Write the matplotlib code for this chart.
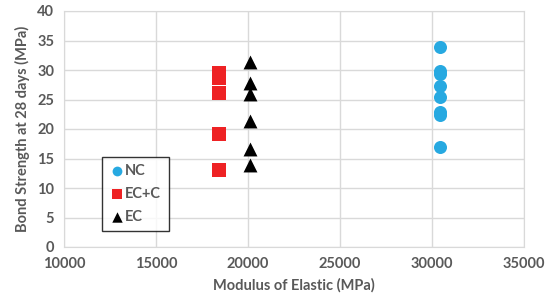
import matplotlib.pyplot as plt

# data
nc_x = [30450] * 8
nc_y = [33.9, 29.9, 29.3, 27.3, 25.4, 22.9, 22.4, 16.9]

ecc_x = [18400] * 5
ecc_y = [29.5, 28.6, 26.1, 19.1, 13.1]

ec_x = [20100] * 6
ec_y = [31.4, 27.8, 26.0, 21.4, 16.6, 13.9]

x_ticks = [10000, 15000, 20000, 25000, 30000, 35000]
y_ticks = [0, 5, 10, 15, 20, 25, 30, 35, 40]

grey = '#595959'
plt.rcParams['font.family'] = ['Lato', 'DejaVu Sans']

fig = plt.figure(figsize=(5.48, 3.01), dpi=100)
ax = fig.add_axes([64 / 548, 1 - 247 / 301, 460 / 548, 236 / 301])

ax.scatter(nc_x, nc_y, s=88, marker='o', color='#27a9e1', label='NC', zorder=3, linewidths=0)
ax.scatter(ecc_x, ecc_y, s=90, marker='s', color='#ee2224', label='EC+C', zorder=3, linewidths=0)
ax.scatter(ec_x, ec_y, s=100, marker='^', color='black', label='EC', zorder=3, linewidths=0)

ax.set_xlim(10000, 35000)
ax.set_ylim(0, 40)
ax.set_xticks(x_ticks)
ax.set_yticks(y_ticks)
ax.grid(True, color='#d9d9d9', linewidth=1)
ax.set_axisbelow(True)
for s in ax.spines.values():
    s.set_color('#d9d9d9')
ax.tick_params(length=0, colors=grey, labelsize=10.5, pad=7)
for lab in ax.get_xticklabels() + ax.get_yticklabels():
    lab.set_fontweight('bold')

ax.set_xlabel('Modulus of Elastic (MPa)', color=grey, fontsize=10.5, fontweight='bold', labelpad=5)
ax.set_ylabel('Bond Strength at 28 days (MPa)', color=grey, fontsize=10.5, fontweight='bold', labelpad=5)

leg = ax.legend(loc='upper left', bbox_to_anchor=(38 / 460, 90 / 236), borderaxespad=0,
                frameon=True, fancybox=False, markerscale=0.75, handletextpad=0.1,
                labelspacing=0.6, borderpad=0.5, handlelength=1.0,
                prop={'weight': 'bold', 'size': 10.5})
leg.get_frame().set_edgecolor('black')
leg.get_frame().set_linewidth(1)
for t in leg.get_texts():
    t.set_color(grey)

plt.savefig('out.png', dpi=100)
